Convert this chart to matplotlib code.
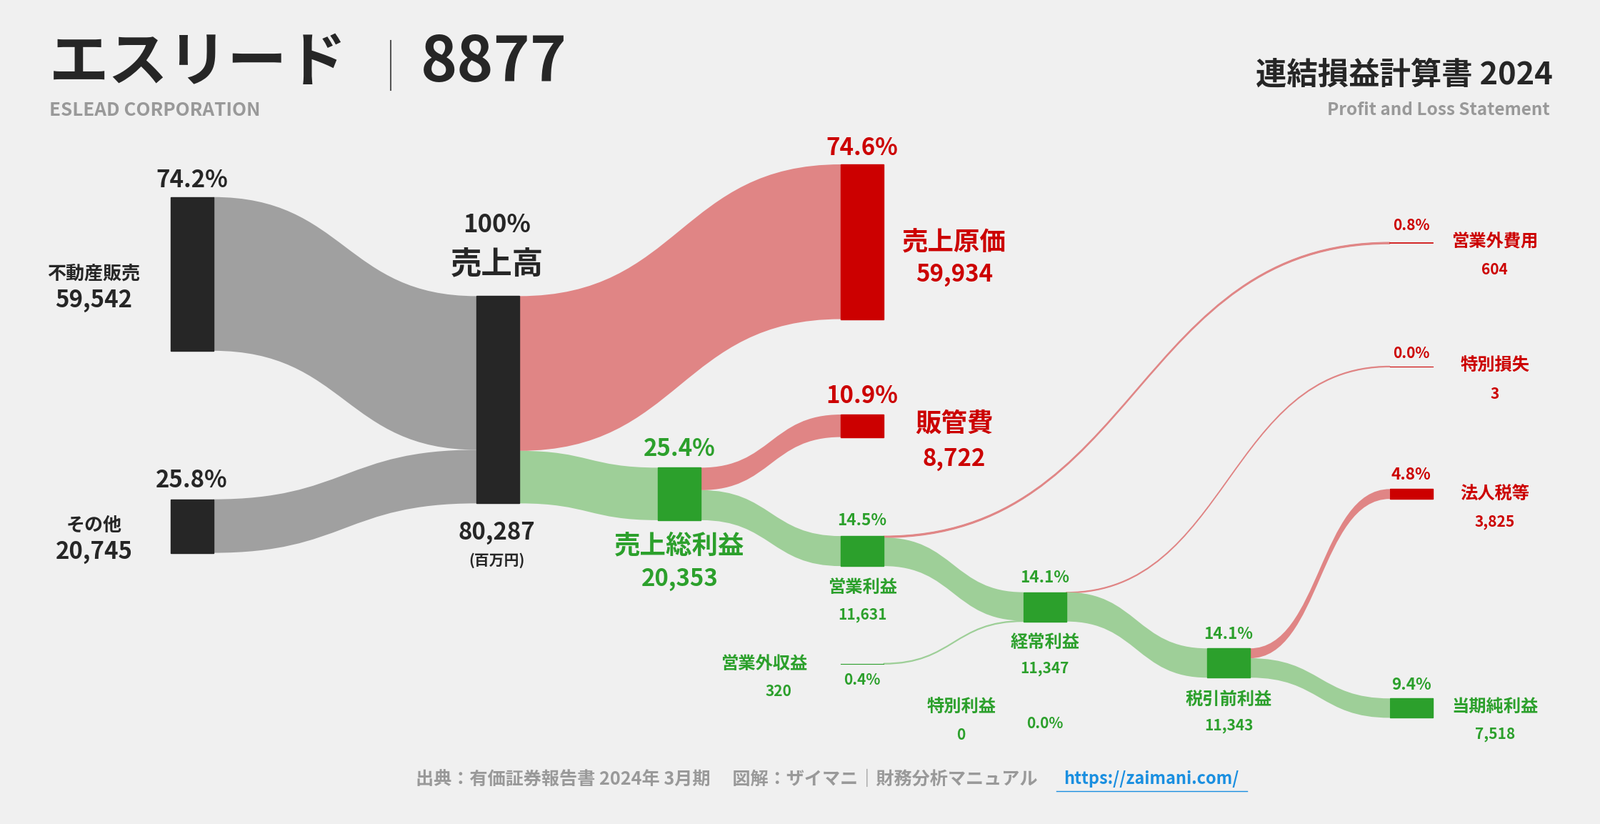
import matplotlib
matplotlib.use("Agg")
import matplotlib.pyplot as plt
from matplotlib.path import Path
from matplotlib.patches import PathPatch, Rectangle

FONT = "Noto Sans CJK JP"
plt.rcParams["font.family"] = FONT

# ---- data (百万円) ----
seg_names = ["不動産販売", "その他"]
seg_vals = [59542, 20745]
revenue = 80287
cogs = 59934
gross = 20353
sga = 8722
op_inc = 11631
nonop_inc = 320
nonop_exp = 604
ordinary = 11347
sp_gain = 0
sp_loss = 3
pretax = 11343
tax = 3825
net = 7518

BG = "#f0f0f0"
DARK = "#262626"
RED = "#cc0000"
GREEN = "#2ca02c"
LRED = "#e08585"
LGREEN = "#9ecf98"
GREY = "#a0a0a0"

fig = plt.figure(figsize=(22.4, 11.53), dpi=100, facecolor=BG)
ax = fig.add_axes([0, 0, 1, 1])
ax.set_xlim(0, 1568)
ax.set_ylim(807, 0)
ax.axis("off")
ax.set_facecolor(BG)

k = 203 / revenue
W = 42

def node(x, top, val, color):
    h = max(val * k, 1.2)
    ax.add_patch(Rectangle((x, top), W, h, color=color, zorder=3))
    return h

def band(x0, t0, x1, t1, val, color):
    h = max(val * k, 0.8)
    xm = (x0 + x1) / 2
    verts = [(x0, t0), (xm, t0), (xm, t1), (x1, t1), (x1, t1 + h),
             (xm, t1 + h), (xm, t0 + h), (x0, t0 + h), (x0, t0)]
    codes = [Path.MOVETO, Path.CURVE4, Path.CURVE4, Path.CURVE4, Path.LINETO,
             Path.CURVE4, Path.CURVE4, Path.CURVE4, Path.CLOSEPOLY]
    lw = 0.8 if h < 3 else 0
    ax.add_patch(PathPatch(Path(verts, codes), facecolor=color, edgecolor=color,
                           lw=lw, zorder=2))

xs = [167, 467, 645, 824, 1003, 1183, 1362]
node(xs[0], 193, seg_vals[0], DARK)
node(xs[0], 489, seg_vals[1], DARK)
node(xs[1], 290, revenue, DARK)
node(xs[3], 161, cogs, RED)
node(xs[2], 458, gross, GREEN)
node(xs[3], 406, sga, RED)
node(xs[3], 525, op_inc, GREEN)
node(xs[4], 580, ordinary, GREEN)
node(xs[5], 635, pretax, GREEN)
node(xs[6], 479, tax, RED)
node(xs[6], 684, net, GREEN)
ax.plot([xs[6], xs[6] + W], [238, 238], color=RED, lw=1.2, zorder=3)
ax.plot([xs[6], xs[6] + W], [359, 359], color=RED, lw=0.8, zorder=3)
ax.plot([xs[3], xs[3] + W], [650, 650], color=GREEN, lw=0.8, zorder=3)

band(xs[0] + W, 193, xs[1], 290, seg_vals[0], GREY)
band(xs[0] + W, 489, xs[1], 290 + seg_vals[0] * k, seg_vals[1], GREY)
band(xs[1] + W, 290, xs[3], 161, cogs, LRED)
band(xs[1] + W, 290 + cogs * k, xs[2], 458, gross, LGREEN)
band(xs[2] + W, 458, xs[3], 406, sga, LRED)
band(xs[2] + W, 458 + sga * k, xs[3], 525, op_inc, LGREEN)
band(xs[3] + W, 525, xs[6], 237.3, nonop_exp, LRED)
band(xs[3] + W, 525 + nonop_exp * k, xs[4], 580, op_inc - nonop_exp, LGREEN)
band(xs[3] + W, 649.6, xs[4], 580 + (op_inc - nonop_exp) * k, nonop_inc, LGREEN)
band(xs[4] + W, 580, xs[6], 358.6, sp_loss, LRED)
band(xs[4] + W, 580 + sp_loss * k, xs[5], 635, pretax, LGREEN)
band(xs[5] + W, 635, xs[6], 479, tax, LRED)
band(xs[5] + W, 635 + tax * k, xs[6], 684, net, LGREEN)

F = 1.25

def t(x, y, s, size, color=DARK, ha="center", weight="bold", **kw):
    ax.text(x, y, s, fontsize=size * F, color=color, ha=ha, va="center",
            fontweight=weight, zorder=5, **kw)

pct = lambda v: f"{v / revenue * 100:.1f}%"
fmt = lambda v: f"{v:,}"

t(188, 177, pct(seg_vals[0]), 19)
t(92, 268, seg_names[0], 15)
t(92, 294, fmt(seg_vals[0]), 19)
t(188, 471, pct(seg_vals[1]), 19)
t(92, 515, seg_names[1], 15)
t(92, 541, fmt(seg_vals[1]), 19)
t(487, 220, "100%", 20)
t(487, 259, "売上高", 25)
t(487, 522, fmt(revenue), 19)
t(487, 549, "(百万円)", 12)
t(845, 145, pct(cogs), 19, RED)
t(935, 237, "売上原価", 21, RED)
t(935, 269, fmt(cogs), 19, RED)
t(845, 388, pct(sga), 19, RED)
t(935, 415, "販管費", 21, RED)
t(935, 450, fmt(sga), 19, RED)
t(666, 440, pct(gross), 19, GREEN)
t(666, 535, "売上総利益", 21, GREEN)
t(666, 567, fmt(gross), 19, GREEN)
t(845, 510, pct(op_inc), 13, GREEN)
t(845, 575, "営業利益", 14, GREEN)
t(845, 602, fmt(op_inc), 12, GREEN)
t(1024, 566, pct(ordinary), 13, GREEN)
t(1024, 629, "経常利益", 14, GREEN)
t(1024, 655, fmt(ordinary), 12, GREEN)
t(1204, 621, pct(pretax), 13, GREEN)
t(1204, 685, "税引前利益", 14, GREEN)
t(1204, 711, fmt(pretax), 12, GREEN)
t(1383, 671, pct(net), 13, GREEN)
t(1465, 692, "当期純利益", 14, GREEN)
t(1465, 719, fmt(net), 12, GREEN)
t(1383, 465, pct(tax), 13, RED)
t(1465, 484, "法人税等", 14, RED)
t(1465, 511, fmt(tax), 12, RED)
t(1383, 221, pct(nonop_exp), 12, RED)
t(1465, 237, "営業外費用", 14, RED)
t(1465, 264, fmt(nonop_exp), 12, RED)
t(1383, 346, pct(sp_loss), 12, RED)
t(1465, 358, "特別損失", 14, RED)
t(1465, 386, fmt(sp_loss), 12, RED)
t(749, 650, "営業外収益", 14, GREEN)
t(763, 677, fmt(nonop_inc), 12, GREEN)
t(845, 666, pct(nonop_inc), 12, GREEN)
t(942, 692, "特別利益", 14, GREEN)
t(942, 720, fmt(sp_gain), 12, GREEN)
t(1024, 709, pct(sp_gain), 12, GREEN)

t(48, 62, "エスリード", 48, ha="left", weight="heavy")
ax.plot([383, 383], [40, 88], color="#555555", lw=1.5)
t(412, 62, "8877", 50, ha="left", weight="heavy")
t(48, 108, "ESLEAD CORPORATION", 15, "#999999", ha="left")
t(1522, 73, "連結損益計算書 2024", 25, ha="right", weight="heavy")
t(1519, 108, "Profit and Loss Statement", 14, "#999999", ha="right")

t(712, 763, "出典：有価証券報告書 2024年 3月期　 図解：ザイマニ｜財務分析マニュアル", 14.5, "#999999")
t(1128, 763, "https://zaimani.com/", 13.5, "#1a8fe0")
ax.plot([1035, 1222], [775, 775], color="#1a8fe0", lw=1)

fig.savefig("out.png", dpi=100, facecolor=BG)
